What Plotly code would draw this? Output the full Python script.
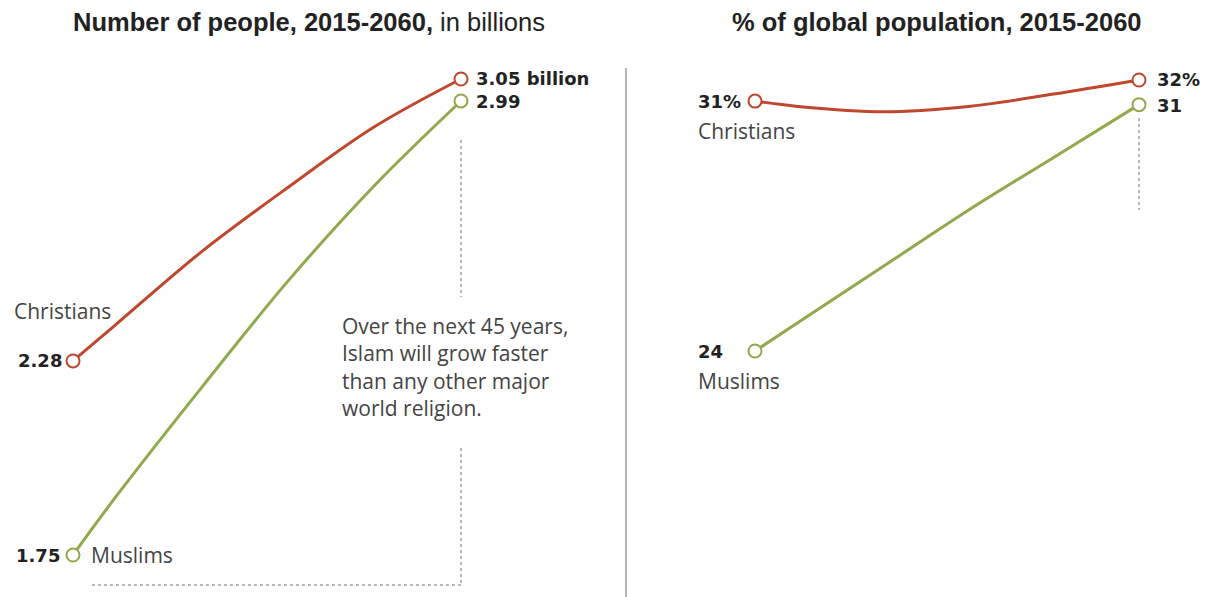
import plotly.graph_objects as go

# ---- data ----
years = [2015, 2020, 2030, 2040, 2050, 2060]
christians_bn = [2.28, 2.38, 2.58, 2.755, 2.92, 3.05]
muslims_bn = [1.75, 1.91, 2.21, 2.50, 2.76, 2.99]
christians_pct = [31.2, 31.05, 30.9, 31.05, 31.4, 31.8]
muslims_pct = [24.1, 24.9, 26.5, 28.1, 29.6, 31.1]

label_bn_start = {"Christians": "2.28", "Muslims": "1.75"}
label_bn_end = {"Christians": "3.05 billion", "Muslims": "2.99"}
label_pct_start = {"Christians": "31%", "Muslims": "24"}
label_pct_end = {"Christians": "32%", "Muslims": "31"}

RED = "#BF472D"
GREEN = "#92A84C"
DARK = "#222222"
GRAY = "#444444"
LABEL_FONT = "Open Sans"
NUM_FONT = "DejaVu Sans"
TITLE_FONT = "Liberation Sans"

# page has an 8px body margin; figure fills the rest of the 1208x597 window
OFF = 8
W, H = 1208 - OFF, 597 - OFF


def sx(px):  # screen x pixel -> paper
    return (px - OFF) / W


def sy(py):  # screen y pixel -> paper
    return 1 - (py - OFF) / H


def axis_range(v0, p0, v1, p1, lo_px, hi_px):
    k = (v1 - v0) / (p1 - p0)
    return [v0 + (lo_px - p0) * k, v0 + (hi_px - p0) * k]


x1_range = axis_range(2015, 73, 2060, 461, OFF, OFF + W / 2)
x2_range = axis_range(2015, 755, 2060, 1139, OFF + W / 2, OFF + W)
y1_range = axis_range(1.75, 555, 3.05, 79, OFF + H, OFF)
y2_range = axis_range(24.1, 351, 31.8, 80, OFF + H, OFF)

fig = go.Figure()


def add_series(xa, ya, yvals, color):
    fig.add_trace(go.Scatter(
        x=years, y=yvals, mode="lines", xaxis=xa, yaxis=ya,
        line=dict(color=color, width=3, shape="spline", smoothing=1.0),
        hoverinfo="skip", showlegend=False))
    fig.add_trace(go.Scatter(
        x=[years[0], years[-1]], y=[yvals[0], yvals[-1]], mode="markers",
        xaxis=xa, yaxis=ya,
        marker=dict(size=13, color="white", line=dict(color=color, width=2)),
        hoverinfo="skip", showlegend=False))


add_series("x", "y", christians_bn, RED)
add_series("x", "y", muslims_bn, GREEN)
add_series("x2", "y2", christians_pct, RED)
add_series("x2", "y2", muslims_pct, GREEN)

ann = []


def txt(x, y, text, xref, yref, xanchor="left", xshift=0, yshift=0,
        num=False):
    if num:
        text = "<b>" + text + "</b>"
        font = dict(family=NUM_FONT, size=18, color=DARK)
    else:
        font = dict(family=LABEL_FONT, size=21, color=GRAY)
    ann.append(dict(x=x, y=y, xref=xref, yref=yref, text=text, showarrow=False,
                    xanchor=xanchor, yanchor="middle", xshift=xshift, yshift=yshift,
                    align="left", borderpad=0, font=font))


# Titles
ann.append(dict(x=sx(309), y=sy(21.5), xref="paper", yref="paper",
                text="<b>Number of people, 2015-2060,</b> in billions",
                showarrow=False, xanchor="center", yanchor="middle", borderpad=0,
                font=dict(family=TITLE_FONT, size=25.5, color=DARK)))
ann.append(dict(x=sx(937), y=sy(21.5), xref="paper", yref="paper",
                text="<b>% of global population, 2015-2060</b>",
                showarrow=False, xanchor="center", yanchor="middle", borderpad=0,
                font=dict(family=TITLE_FONT, size=25.5, color=DARK)))

# Left panel labels
txt(years[0], christians_bn[0], label_bn_start["Christians"], "x", "y",
    xanchor="right", xshift=-10, num=True)
txt(years[0], christians_bn[0], "Christians", "x", "y",
    xanchor="left", xshift=-60, yshift=50)
txt(years[0], muslims_bn[0], label_bn_start["Muslims"], "x", "y",
    xanchor="right", xshift=-12, num=True)
txt(years[0], muslims_bn[0], "Muslims", "x", "y", xanchor="left", xshift=17)
txt(years[-1], christians_bn[-1], label_bn_end["Christians"], "x", "y",
    xanchor="left", xshift=14, yshift=1, num=True)
txt(years[-1], muslims_bn[-1], label_bn_end["Muslims"], "x", "y",
    xanchor="left", xshift=14, yshift=-1, num=True)

ann.append(dict(x=sx(340), y=sy(367), xref="paper", yref="paper",
                text="Over the next 45 years,<br>Islam will grow faster<br>"
                     "than any other major<br>world religion.",
                showarrow=False, xanchor="left", yanchor="middle", align="left",
                font=dict(family=LABEL_FONT, size=21, color=GRAY)))

# Right panel labels
txt(years[0], christians_pct[0], label_pct_start["Christians"], "x2", "y2",
    xanchor="left", xshift=-58, num=True)
txt(years[0], christians_pct[0], "Christians", "x2", "y2",
    xanchor="left", xshift=-58, yshift=-30)
txt(years[0], muslims_pct[0], label_pct_start["Muslims"], "x2", "y2",
    xanchor="left", xshift=-58, num=True)
txt(years[0], muslims_pct[0], "Muslims", "x2", "y2",
    xanchor="left", xshift=-58, yshift=-30)
txt(years[-1], christians_pct[-1], label_pct_end["Christians"], "x2", "y2",
    xanchor="left", xshift=17, yshift=1, num=True)
txt(years[-1], muslims_pct[-1], label_pct_end["Muslims"], "x2", "y2",
    xanchor="left", xshift=17, yshift=-1, num=True)

dot = dict(color="#a0a0a0", width=1.5, dash="dot")
shapes = [
    dict(type="line", xref="x", yref="paper", x0=years[-1], x1=years[-1],
         y0=sy(140), y1=sy(297), line=dot),
    dict(type="line", xref="x", yref="paper", x0=years[-1], x1=years[-1],
         y0=sy(448), y1=sy(585), line=dot),
    dict(type="line", xref="paper", yref="paper", x0=sx(92), x1=sx(461),
         y0=sy(585), y1=sy(585), line=dot),
    dict(type="line", xref="x2", yref="paper", x0=years[-1], x1=years[-1],
         y0=sy(118), y1=sy(210), line=dot),
    dict(type="line", xref="paper", yref="paper", x0=sx(626), x1=sx(626),
         y0=sy(68), y1=0, line=dict(color="#b5b5b5", width=2)),
]

ax_common = dict(visible=False, showgrid=False, zeroline=False, fixedrange=True)
fig.update_layout(
    width=W, height=H,
    margin=dict(l=0, r=0, t=0, b=0),
    paper_bgcolor="white", plot_bgcolor="white",
    xaxis=dict(domain=[0, 0.5], range=x1_range, **ax_common),
    yaxis=dict(domain=[0, 1], range=y1_range, **ax_common),
    xaxis2=dict(domain=[0.5, 1], range=x2_range, anchor="y2", **ax_common),
    yaxis2=dict(domain=[0, 1], range=y2_range, anchor="x2", **ax_common),
    annotations=ann, shapes=shapes, showlegend=False,
)

fig.write_html("out.html")
